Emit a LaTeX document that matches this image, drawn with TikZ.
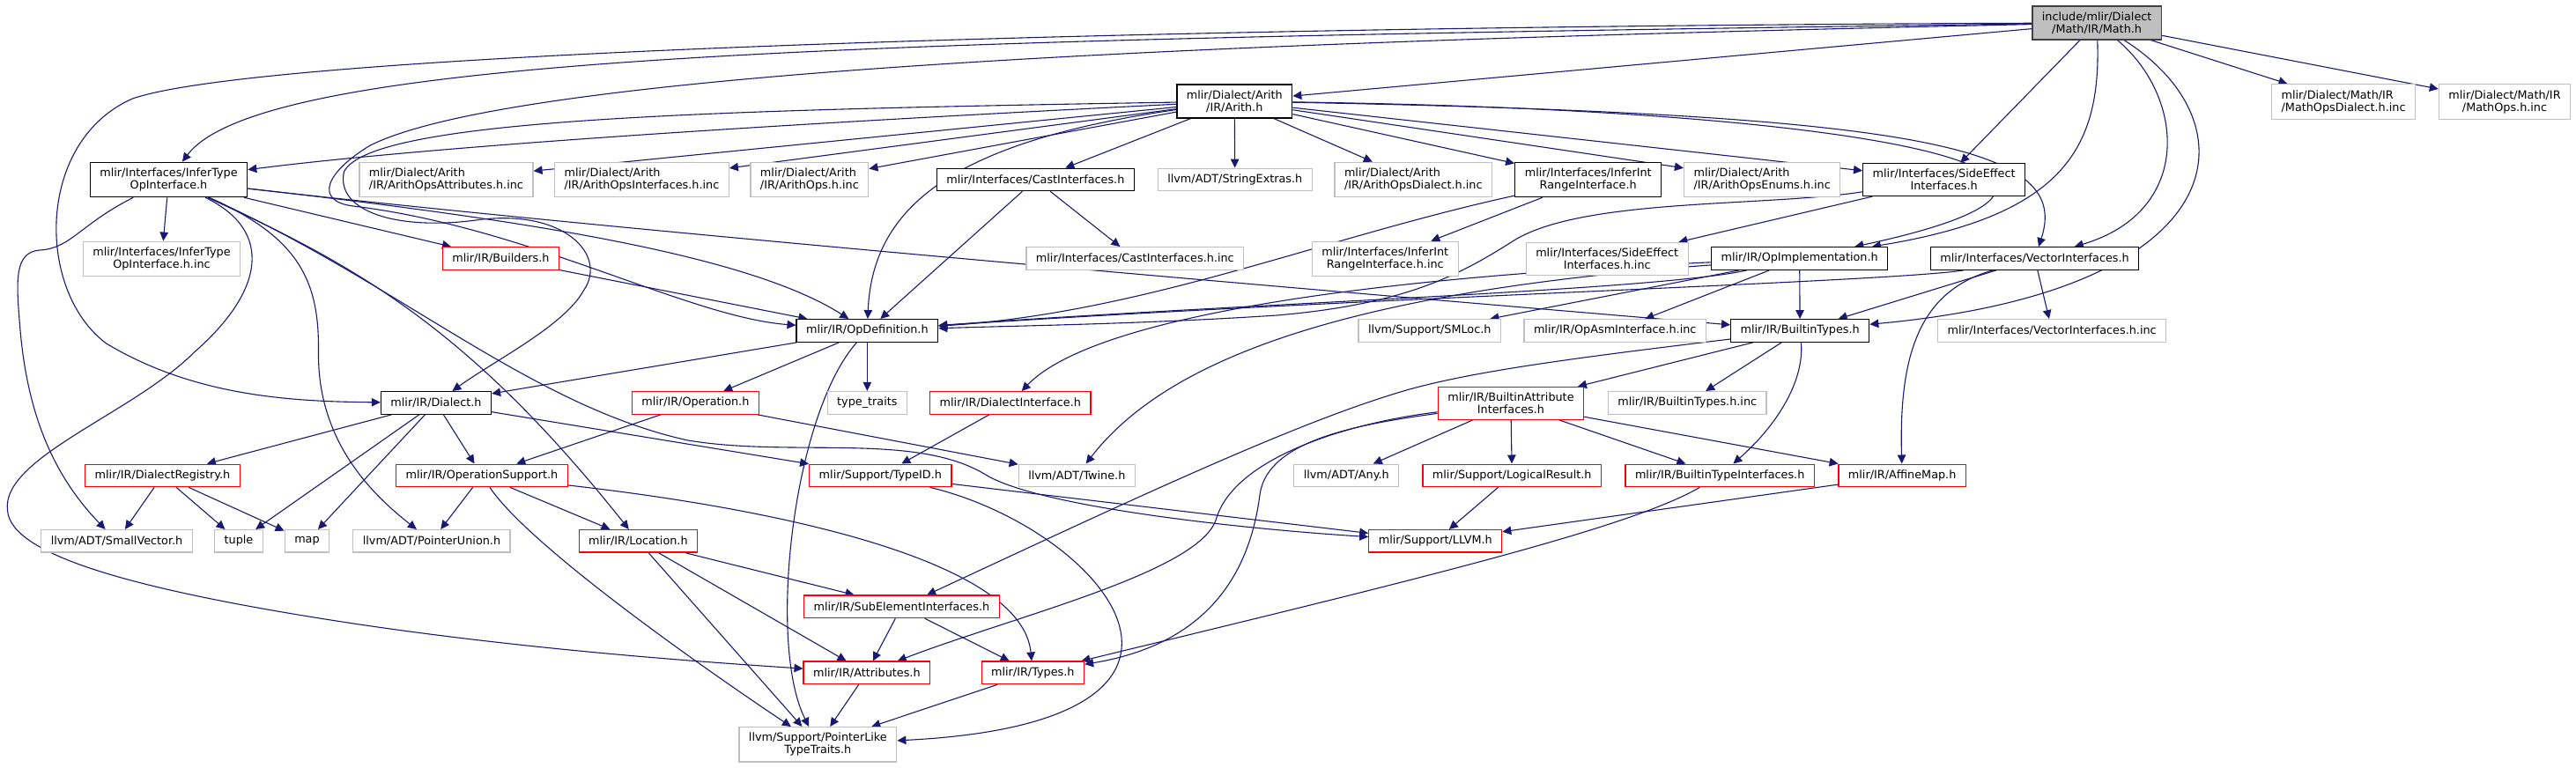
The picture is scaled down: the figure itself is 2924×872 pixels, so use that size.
\documentclass[tikz,border=0pt]{standalone}
\usepackage{fontspec}
\setmainfont{DejaVu Sans}
\usetikzlibrary{arrows.meta,backgrounds}
\definecolor{edgeblue}{RGB}{25,25,112}
\definecolor{truncred}{RGB}{255,0,0}
\definecolor{undocgray}{RGB}{191,191,191}
\definecolor{rootfill}{RGB}{191,191,191}
\definecolor{rootborder}{RGB}{64,64,64}

\begin{document}
\begin{tikzpicture}[x=1pt, y=-1pt,
  every node/.style={font=\fontsize{12.8pt}{14pt}\selectfont},
  file/.style={draw, line width=1.3pt, inner xsep=11pt, inner ysep=6.5pt, minimum height=25.5pt, align=center, fill=white},
  doc/.style={file, draw=black},
  undoc/.style={file, draw=undocgray},
  trunc/.style={file, draw=truncred},
  root/.style={file, draw=rootborder, fill=rootfill},
  dep/.style={edgeblue, line width=1.1pt, -{Triangle[length=10pt, width=9.5pt]}}
]
% Top rows
\node[root] (math) at (2380,26) {include/mlir/Dialect\\/Math/IR/Math.h};
\node[doc] (arith) at (1401,115) {mlir/Dialect/Arith\\/IR/Arith.h};
\node[undoc, align=left] (mdinc) at (2660,115.5) {mlir/Dialect/Math/IR\\/MathOpsDialect.h.inc};
\node[undoc] (mopsinc) at (2843,115.5) {mlir/Dialect/Math/IR\\/MathOps.h.inc};

\node[doc] (infertype) at (191,204) {mlir/Interfaces/InferType\\OpInterface.h};
\node[undoc, align=left] (attrinc) at (506,204) {mlir/Dialect/Arith\\/IR/ArithOpsAttributes.h.inc};
\node[undoc, align=left] (ifaceinc) at (728,204) {mlir/Dialect/Arith\\/IR/ArithOpsInterfaces.h.inc};
\node[undoc, align=left] (opsinc) at (918.5,204) {mlir/Dialect/Arith\\/IR/ArithOps.h.inc};
\node[doc] (cast) at (1175,204) {mlir/Interfaces/CastInterfaces.h};
\node[undoc] (strext) at (1401.5,204) {llvm/ADT/StringExtras.h};
\node[undoc, align=left] (adinc) at (1604,204) {mlir/Dialect/Arith\\/IR/ArithOpsDialect.h.inc};
\node[doc] (inferint) at (1802.5,204) {mlir/Interfaces/InferInt\\RangeInterface.h};
\node[undoc, align=left] (enuminc) at (2000,204) {mlir/Dialect/Arith\\/IR/ArithOpsEnums.h.inc};
\node[doc] (sideeff) at (2206.5,204) {mlir/Interfaces/SideEffect\\Interfaces.h};

\node[undoc] (itinc) at (183,294) {mlir/Interfaces/InferType\\OpInterface.h.inc};
\node[trunc] (builders) at (568,293.5) {mlir/IR/Builders.h};
\node[undoc] (castinc) at (1288,293.5) {mlir/Interfaces/CastInterfaces.h.inc};
\node[undoc] (iiinc) at (1572,294) {mlir/Interfaces/InferInt\\RangeInterface.h.inc};
\node[undoc] (seinc) at (1824,294) {mlir/Interfaces/SideEffect\\Interfaces.h.inc};
\node[doc] (opimpl) at (2042.5,293.5) {mlir/IR/OpImplementation.h};
\node[doc] (vector) at (2309.5,293.5) {mlir/Interfaces/VectorInterfaces.h};

\node[doc] (opdef) at (984,375.5) {mlir/IR/OpDefinition.h};
\node[undoc] (smloc) at (1622.5,375.5) {llvm/Support/SMLoc.h};
\node[undoc] (asminc) at (1833,375.5) {mlir/IR/OpAsmInterface.h.inc};
\node[doc] (btypes) at (2043,375.5) {mlir/IR/BuiltinTypes.h};
\node[undoc] (vecinc) at (2329,375.5) {mlir/Interfaces/VectorInterfaces.h.inc};

% Lower rows
\node[doc] (dialect) at (494.5,457.5) {mlir/IR/Dialect.h};
\node[trunc] (operation) at (789,457.5) {mlir/IR/Operation.h};
\node[undoc] (typetraits) at (984,457.5) {type\_traits};
\node[trunc] (diface) at (1146.5,457.5) {mlir/IR/DialectInterface.h};
\node[trunc] (battr) at (1714.7,458) {mlir/IR/BuiltinAttribute\\Interfaces.h};
\node[undoc] (btinc) at (1915,457.5) {mlir/IR/BuiltinTypes.h.inc};

\node[trunc] (dreg) at (184,540) {mlir/IR/DialectRegistry.h};
\node[trunc] (opsupp) at (546.5,540) {mlir/IR/OperationSupport.h};
\node[trunc] (typeid) at (999,540) {mlir/Support/TypeID.h};
\node[undoc] (twine) at (1222,540) {llvm/ADT/Twine.h};
\node[undoc] (any) at (1528,540) {llvm/ADT/Any.h};
\node[trunc] (logres) at (1716,540) {mlir/Support/LogicalResult.h};
\node[trunc] (btiface) at (1952,540) {mlir/IR/BuiltinTypeInterfaces.h};
\node[trunc] (affine) at (2159,540) {mlir/IR/AffineMap.h};

\node[undoc] (smallvec) at (132,614.5) {llvm/ADT/SmallVector.h};
\node[undoc] (tuple) at (270.5,614.5) {tuple};
\node[undoc] (map) at (348,614.5) {map};
\node[undoc] (punion) at (489.5,614.5) {llvm/ADT/PointerUnion.h};
\node[trunc] (location) at (724,614.5) {mlir/IR/Location.h};
\node[trunc] (llvm) at (1629,614.5) {mlir/Support/LLVM.h};

\node[trunc] (subelem) at (1023,689) {mlir/IR/SubElementInterfaces.h};
\node[trunc] (attributes) at (983.5,764) {mlir/IR/Attributes.h};
\node[trunc] (types) at (1172,764) {mlir/IR/Types.h};
\node[undoc] (ptrlike) at (928,845.5) {llvm/Support/PointerLike\\TypeTraits.h};

\begin{scope}[on background layer]
\fill[white] (0,0) rectangle (2924,872);
% Math.h
\draw[dep] (math) -- (arith);
\draw[dep] (math) .. controls (1000,45) and (300,60) .. (infertype);
\draw[dep] (math) .. controls (1300,30) and (300,60) .. (150,112) .. controls (40,160) and (40,330) .. (120,390) .. controls (220,450) and (330,456) .. (dialect);
\draw[dep] (math) .. controls (1500,45) and (600,75) .. (420,165) .. controls (370,195) and (355,228) .. (400,234) .. controls (600,258) and (780,360) .. (opdef);
\draw[dep] (math) .. controls (2385,170) and (2340,245) .. (opimpl);
\draw[dep] (math) -- (sideeff);
\draw[dep] (math) .. controls (2480,110) and (2490,240) .. (vector);
\draw[dep] (math) .. controls (2560,140) and (2540,330) .. (btypes);
\draw[dep] (math) -- (mdinc);
\draw[dep] (math) -- (mopsinc);

% Arith.h
\draw[dep] (arith) .. controls (900,140) and (500,165) .. (infertype);
\draw[dep] (arith) -- (attrinc);
\draw[dep] (arith) -- (ifaceinc);
\draw[dep] (arith) -- (opsinc);
\draw[dep] (arith) .. controls (1090,160) and (990,230) .. (opdef);
\draw[dep] (arith) -- (cast);
\draw[dep] (arith) -- (strext);
\draw[dep] (arith) -- (adinc);
\draw[dep] (arith) -- (inferint);
\draw[dep] (arith) -- (enuminc);
\draw[dep] (arith) -- (sideeff);
\draw[dep] (arith) .. controls (2150,125) and (2480,200) .. (opimpl);
\draw[dep] (arith) .. controls (2200,130) and (2350,170) .. (vector);
\draw[dep] (arith) .. controls (800,125) and (420,135) .. (390,195) .. controls (380,240) and (450,262) .. (540,250) .. controls (640,236) and (690,290) .. (662,330) .. controls (640,370) and (560,410) .. (dialect);

% InferTypeOpInterface.h
\draw[dep] (infertype) -- (itinc);
\draw[dep] (infertype) .. controls (90,255) and (80,282) .. (45,284) .. controls (15,286) and (18,320) .. (22,370) .. controls (30,470) and (60,540) .. (smallvec);
\draw[dep] (infertype) .. controls (310,262) and (300,330) .. (220,400) .. controls (150,470) and (0,520) .. (8,580) .. controls (12,630) and (150,670) .. (400,708) .. controls (600,738) and (800,752) .. (attributes);
\draw[dep] (infertype) .. controls (340,270) and (362,320) .. (361,400) .. controls (360,500) and (420,560) .. (punion);
\draw[dep] (infertype) .. controls (400,300) and (530,370) .. (location);
\draw[dep] (infertype) .. controls (450,320) and (600,460) .. (780,500) .. controls (900,520) and (1040,490) .. (1120,540) .. controls (1180,575) and (1400,600) .. (llvm);
\draw[dep] (infertype) -- (builders);
\draw[dep] (infertype) .. controls (700,262) and (1500,330) .. (btypes);
\draw[dep] (infertype) .. controls (600,250) and (850,290) .. (opdef);
\draw[dep] (builders) -- (opdef);

% Interfaces
\draw[dep] (cast) -- (opdef);
\draw[dep] (cast) -- (castinc);
\draw[dep] (inferint) -- (iiinc);
\draw[dep] (inferint) .. controls (1500,270) and (1300,355) .. (opdef);
\draw[dep] (sideeff) -- (seinc);
\draw[dep] (sideeff) .. controls (2000,235) and (1800,225) .. (1720,272) .. controls (1660,310) and (1600,345) .. (1450,358) .. controls (1300,368) and (1150,370) .. (opdef);
\draw[dep] (vector) .. controls (2150,320) and (1500,340) .. (opdef);
\draw[dep] (vector) -- (btypes);
\draw[dep] (vector) .. controls (2180,330) and (2155,400) .. (affine);
\draw[dep] (vector) -- (vecinc);

% OpImplementation.h
\draw[dep] (opimpl) .. controls (1880,330) and (1400,345) .. (opdef);
\draw[dep] (opimpl) -- (smloc);
\draw[dep] (opimpl) -- (asminc);
\draw[dep] (opimpl) -- (btypes);
\draw[dep] (opimpl) .. controls (1550,315) and (1240,360) .. (diface);
\draw[dep] (opimpl) .. controls (1550,330) and (1330,400) .. (twine);

% OpDefinition.h, BuiltinTypes.h
\draw[dep] (opdef) -- (dialect);
\draw[dep] (opdef) -- (operation);
\draw[dep] (opdef) -- (typetraits);
\draw[dep] (opdef) .. controls (900,470) and (870,730) .. (ptrlike);
\draw[dep] (btypes) -- (battr);
\draw[dep] (btypes) -- (btinc);
\draw[dep] (btypes) .. controls (2048,430) and (2020,480) .. (btiface);
\draw[dep] (btypes) .. controls (1800,405) and (1680,420) .. (1600,442) .. controls (1480,476) and (1300,560) .. (subelem);

% Dialect.h, Operation.h
\draw[dep] (dialect) -- (dreg);
\draw[dep] (dialect) -- (opsupp);
\draw[dep] (dialect) -- (tuple);
\draw[dep] (dialect) -- (map);
\draw[dep] (dialect) -- (typeid);
\draw[dep] (operation) -- (opsupp);
\draw[dep] (operation) -- (twine);
\draw[dep] (diface) -- (typeid);

% BuiltinAttributeInterfaces.h
\draw[dep] (battr) -- (any);
\draw[dep] (battr) -- (logres);
\draw[dep] (battr) -- (btiface);
\draw[dep] (battr) -- (affine);
\draw[dep] (battr) .. controls (1530,480) and (1400,520) .. (1380,590) .. controls (1360,650) and (1150,700) .. (attributes);
\draw[dep] (battr) .. controls (1540,482) and (1440,500) .. (1430,560) .. controls (1420,640) and (1380,730) .. (types);

% Support headers
\draw[dep] (dreg) -- (smallvec);
\draw[dep] (dreg) -- (tuple);
\draw[dep] (dreg) -- (map);
\draw[dep] (opsupp) -- (punion);
\draw[dep] (opsupp) -- (location);
\draw[dep] (opsupp) .. controls (600,620) and (800,760) .. (ptrlike);
\draw[dep] (opsupp) .. controls (900,580) and (1160,640) .. (types);
\draw[dep] (typeid) -- (llvm);
\draw[dep] (typeid) .. controls (1250,600) and (1440,820) .. (ptrlike);
\draw[dep] (location) -- (subelem);
\draw[dep] (location) -- (attributes);
\draw[dep] (location) -- (ptrlike);
\draw[dep] (logres) -- (llvm);
\draw[dep] (btiface) .. controls (1850,600) and (1600,660) .. (types);
\draw[dep] (affine) -- (llvm);
\draw[dep] (subelem) -- (attributes);
\draw[dep] (subelem) -- (types);
\draw[dep] (attributes) -- (ptrlike);
\draw[dep] (types) -- (ptrlike);
\end{scope}
\end{tikzpicture}
\end{document}
